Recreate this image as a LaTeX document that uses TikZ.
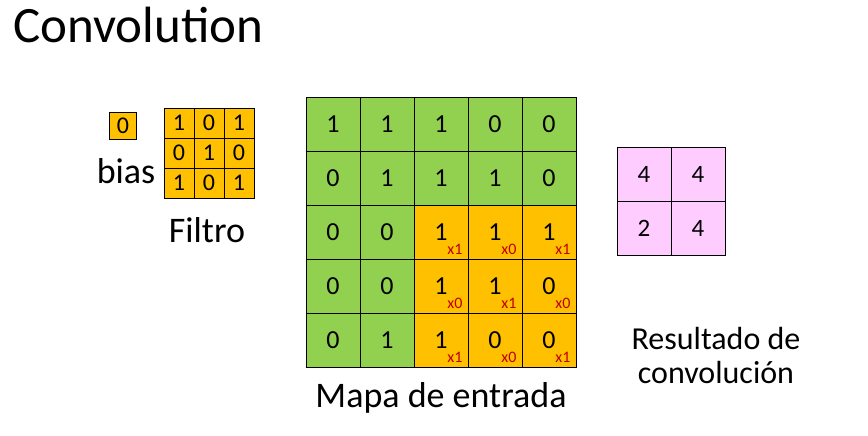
\documentclass[tikz,border=0pt]{standalone}
\usepackage{fontspec}
\setmainfont{Carlito}
\usepackage{tikz}
\usetikzlibrary{positioning}
\usepackage{xcolor}

\definecolor{map}{HTML}{92D050}
\definecolor{kern}{HTML}{FFC000}
\definecolor{res}{HTML}{FFCCFF}
\definecolor{wred}{HTML}{C00000}

\newcommand{\fs}[1]{\fontsize{#1}{#1}\selectfont}

\begin{document}
\begin{tikzpicture}[
    x=1pt, y=-1pt,
    cell/.style={draw, line width=0.9pt, minimum size=54pt, inner sep=0pt, font=\fs{26}},
    fcell/.style={draw, line width=0.9pt, minimum size=30pt, inner sep=0pt, fill=kern, font=\fs{24}},
    rcell/.style={draw, line width=0.9pt, minimum size=54pt, inner sep=0pt, fill=res, font=\fs{25}},
    wt/.style={text=wred, inner sep=0pt, font=\fs{16}},
    lbl/.style={inner sep=0pt, anchor=base, font=\fs{36}}
  ]
  \useasboundingbox (0,0) rectangle (868,436);

  % Title
  \node[inner sep=0pt, anchor=base west, font=\fs{51}] (title) at (13,43) {Convolution};

  % Bias
  \node[fcell, minimum size=27pt] (b) at (123,126) {0};
  \node[lbl] (blbl) at (126,183) {bias};

  % Input map
  \foreach \row [count=\r] in {{1,1,1,0,0},{0,1,1,1,0},{0,0,1,1,1},{0,0,1,1,0},{0,1,1,0,0}} {
    \foreach \v [count=\c] in \row {
      \ifnum\r>2 \ifnum\c>2 \def\fc{kern}\else\def\fc{map}\fi \else\def\fc{map}\fi
      \node[cell, fill=\fc] (m\r\c) at ({333+(\c-1)*54},{124+(\r-1)*54}) {\v};
    }
  }

  % Filter and weights on the map
  \foreach \row [count=\r] in {{1,0,1},{0,1,0},{1,0,1}} {
    \foreach \w [count=\c] in \row {
      \node[fcell] (f\r\c) at ({179+(\c-1)*30},{123+(\r-1)*30}) {\w};
      \pgfmathtruncatemacro\mr{\r+2}
      \pgfmathtruncatemacro\mc{\c+2}
      \node[wt] (w\r\c) at ([xshift=14pt, yshift=10pt]m\mr\mc.south) {x\w};
    }
  }
  \node[lbl] (flbl) at (207,242) {Filtro};
  \node[lbl] (mlbl) at (441,407) {Mapa de entrada};

  % Result
  \foreach \row [count=\r] in {{4,4},{2,4}} {
    \foreach \v [count=\c] in \row {
      \node[rcell] (r\r\c) at ({644+(\c-1)*54},{174+(\r-1)*54}) {\v};
    }
  }
  \node[inner sep=0pt, anchor=base, align=center, font={\fontsize{32}{33.5}\selectfont}] (rlbl) at (716,383) {Resultado de\\convolución};
\end{tikzpicture}
\end{document}
